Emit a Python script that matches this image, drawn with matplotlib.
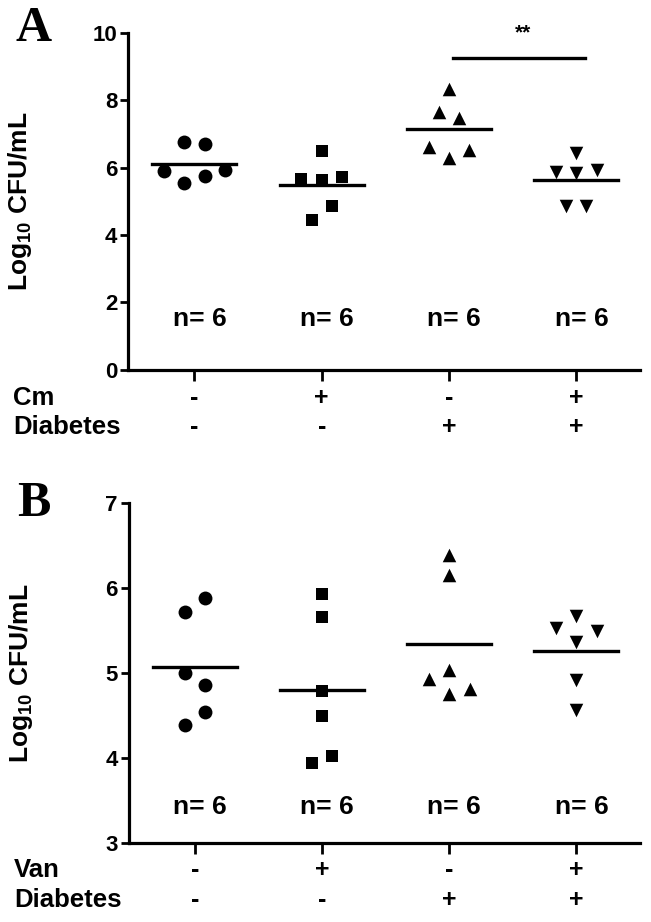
import matplotlib.pyplot as plt
import numpy as np

plt.rcParams['font.family'] = ['Liberation Sans', 'DejaVu Sans']
plt.rcParams['font.weight'] = 'bold'
plt.rcParams['mathtext.fontset'] = 'custom'
plt.rcParams['mathtext.bf'] = 'Liberation Sans:bold'

groups = [1, 2, 3, 4]
markers = ['o', 's', '^', 'v']
msizes = [100, 85, 95, 95]

# Panel A: Cm treatment
a_vals = [
    [6.78, 6.72, 5.91, 5.76, 5.94, 5.54],
    [6.50, 5.67, 5.65, 5.74, 4.86, 4.46],
    [8.35, 7.67, 7.47, 6.63, 6.53, 6.29],
    [6.43, 5.89, 5.84, 5.94, 4.86, 4.86],
]
a_offsets = [
    [-0.08, 0.08, -0.24, 0.08, 0.24, -0.08],
    [0.0, -0.16, 0.0, 0.16, 0.08, -0.08],
    [0.0, -0.08, 0.08, -0.16, 0.16, 0.0],
    [0.0, -0.16, 0.0, 0.16, -0.08, 0.08],
]

# Panel B: Van treatment
b_vals = [
    [5.89, 5.72, 5.00, 4.86, 4.54, 4.39],
    [5.93, 5.66, 4.79, 4.49, 3.94, 4.02],
    [6.39, 6.16, 5.04, 4.93, 4.81, 4.75],
    [5.67, 5.53, 5.49, 5.37, 4.92, 4.57],
]
b_offsets = [
    [0.08, -0.08, -0.08, 0.08, 0.08, -0.08],
    [0.0, 0.0, 0.0, 0.0, -0.08, 0.08],
    [0.0, 0.0, 0.0, -0.16, 0.16, 0.0],
    [0.0, -0.16, 0.16, 0.0, 0.0, 0.0],
]

a_row1 = ['-', '+', '-', '+']
b_row1 = ['-', '+', '-', '+']
row2 = ['-', '-', '+', '+']

fig = plt.figure(figsize=(6.51, 9.22), dpi=100)
axA = fig.add_axes([0.197, 0.599, 0.786, 0.365])
axB = fig.add_axes([0.198, 0.086, 0.785, 0.368])


def draw(ax, vals, offs, ylim, yticks, n_y, row1_label, row1, rows_y, letter, letter_y):
    for g, v, o, m, s in zip(groups, vals, offs, markers, msizes):
        ax.scatter(g + np.array(o), v, marker=m, s=s, color='black', zorder=3, linewidths=0)
        mean = np.mean(v)
        ax.plot([g - 0.33, g + 0.33], [mean, mean], color='black', lw=2.4, zorder=4)
        ax.text(g + 0.04, n_y, 'n= 6', ha='center', va='center', fontsize=19, fontweight='bold')
    ax.set_xlim(0.48, 4.5)
    ax.set_ylim(*ylim)
    ax.set_yticks(yticks)
    ax.set_xticks(groups)
    ax.set_xticklabels([])
    ax.spines['top'].set_visible(False)
    ax.spines['right'].set_visible(False)
    ax.spines['left'].set_linewidth(2.3)
    ax.spines['bottom'].set_linewidth(2.3)
    ax.tick_params(axis='y', width=2, length=6, labelsize=16, pad=2)
    ax.tick_params(axis='x', width=2, length=8)
    for lab in ax.get_yticklabels():
        lab.set_fontweight('bold')
    ax.set_ylabel(r'Log$_{\mathbf{10}}$ CFU/mL', fontsize=19, fontweight='bold')
    ax.yaxis.set_label_coords(-0.184, 0.5)
    tr = ax.get_xaxis_transform()
    for g, s1, s2 in zip(groups, row1, row2):
        ax.text(g, rows_y[0], s1, transform=tr, ha='center', va='center', fontsize=18, fontweight='bold')
        ax.text(g, rows_y[1], s2, transform=tr, ha='center', va='center', fontsize=18, fontweight='bold')
    ax.text(-0.225, rows_y[0], row1_label, transform=ax.transAxes, ha='left', va='center', fontsize=18.5, fontweight='bold')
    ax.text(-0.225, rows_y[1], 'Diabetes', transform=ax.transAxes, ha='left', va='center', fontsize=18.5, fontweight='bold')
    fig.text(34 / 651, letter_y, letter, ha='center', va='center', fontsize=36,
             fontweight='bold', family='Liberation Serif')


draw(axA, a_vals, a_offsets, (0, 10), [0, 2, 4, 6, 8, 10], 1.5, 'Cm', a_row1,
     (-0.083, -0.169), 'A', 1 - 29 / 922)
draw(axB, b_vals, b_offsets, (3, 7), [3, 4, 5, 6, 7], 3.42, 'Van', b_row1,
     (-0.079, -0.168), 'B', 1 - 504 / 922)

# significance bar panel A
axA.plot([3.03, 4.07], [9.26, 9.26], color='black', lw=2.4, clip_on=False)
axA.text(3.58, 10.0, '**', ha='center', va='center', fontsize=15, fontweight='bold')

fig.savefig('out.png', dpi=100)
